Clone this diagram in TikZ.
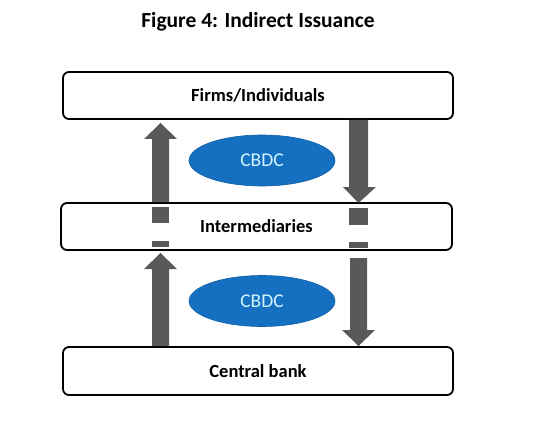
\documentclass[tikz,border=0pt]{standalone}
\usepackage{fontspec}
\setmainfont{Carlito}
\usetikzlibrary{shapes.geometric}
\definecolor{arrowgray}{HTML}{595959}
\definecolor{cbdcblue}{HTML}{1570C1}
\definecolor{cbdctext}{HTML}{D2F4FF}
\tikzset{
  layerbox/.style={draw=black, line width=1.8pt, rounded corners=6pt, fill=white, font=\bfseries\fontsize{18.5}{20}\selectfont},
  cbdc/.style={ellipse, fill=cbdcblue, draw=cbdcblue!85!black, line width=0.6pt, text=cbdctext, inner sep=0pt, minimum width=146pt, minimum height=51pt, font=\fontsize{19.5}{21}\selectfont},
  blockarrow/.style={fill=arrowgray, draw=none}
}
\begin{document}
\begin{tikzpicture}[x=1pt,y=-1pt]
\useasboundingbox (0,0) rectangle (549,433);
% title
\node[font=\bfseries\fontsize{21.5}{24}\selectfont] (title) at (258,22) {Figure 4: Indirect Issuance};
% boxes
\node[layerbox, minimum width=390pt, minimum height=47pt] (firms) at (258,95.5) {Firms/Individuals};
\node[layerbox, minimum width=391pt, minimum height=47pt] (inter) at (256.5,226.5) {Intermediaries};
\node[layerbox, minimum width=390pt, minimum height=48pt] (cb) at (258,371) {Central bank};
% arrows (top section)
\fill[blockarrow] (152,202) -- (152,139) -- (144,139) -- (160.5,123) -- (177,139) -- (169,139) -- (169,202) -- cycle;
\fill[blockarrow] (349,120) -- (349,187) -- (343,187) -- (358.5,203) -- (376,187) -- (368,187) -- (368,120) -- cycle;
% pieces through intermediaries
\fill[blockarrow] (152,207) rectangle (169,223);
\fill[blockarrow] (152,241) rectangle (169,247);
\fill[blockarrow] (349,208) rectangle (368,225);
\fill[blockarrow] (349,242) rectangle (368,248);
% arrows (bottom section)
\fill[blockarrow] (152,346) -- (152,269) -- (144,269) -- (160.5,253) -- (177,269) -- (169,269) -- (169,346) -- cycle;
\fill[blockarrow] (350,258) -- (350,330) -- (342,330) -- (358.5,346) -- (375,330) -- (367,330) -- (367,258) -- cycle;
% CBDC ellipses
\node[cbdc] (cbdc1) at (262,160.5) {CBDC};
\node[cbdc] (cbdc2) at (262,301) {CBDC};
\end{tikzpicture}
\end{document}
